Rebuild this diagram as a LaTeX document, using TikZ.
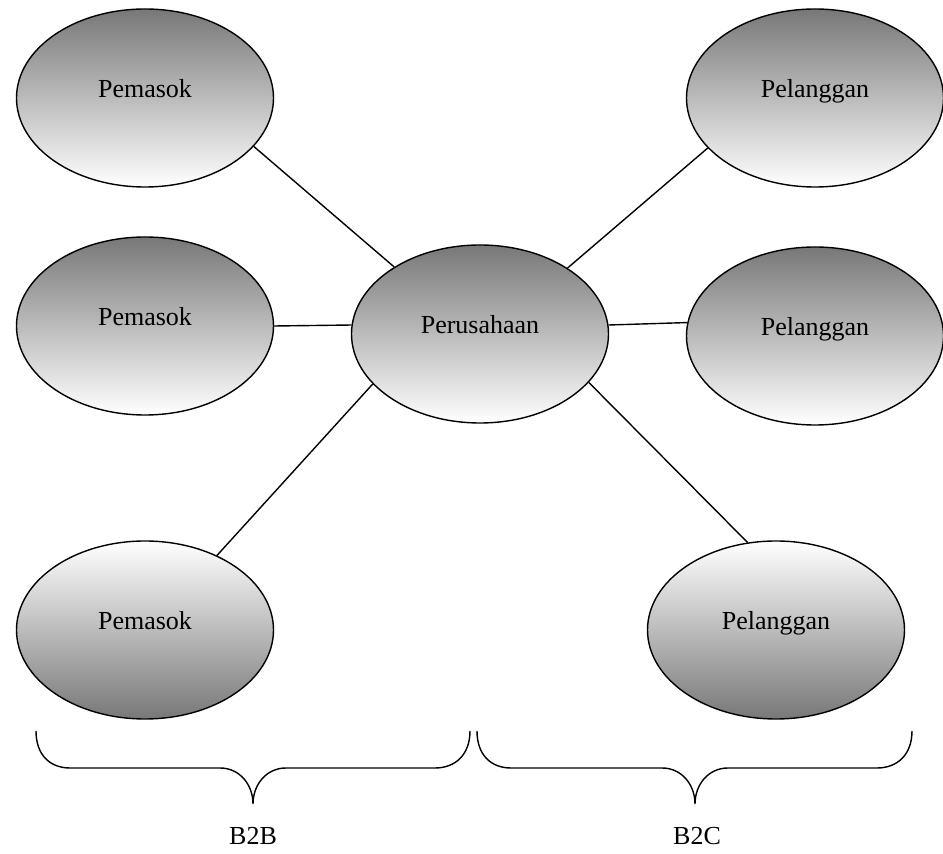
\documentclass[tikz,border=0pt]{standalone}
\usepackage{fontspec}
\setmainfont{Liberation Serif}
\usetikzlibrary{shapes.geometric}

\begin{document}
\begin{tikzpicture}[x=0.5pt,y=-0.5pt,
  entitas/.style={ellipse,draw,line width=0.7pt,minimum width=128.5pt,minimum height=89pt,inner sep=0pt,text height=8pt,text depth=8pt,font=\fontsize{13}{15}\selectfont},
  gelap/.style={entitas,top color=black!53,bottom color=white},
  terang/.style={entitas,top color=white,bottom color=black!53},
  garis/.style={line width=0.7pt}]
\useasboundingbox (0,0) rectangle (943,854);
% pemasok
\node[gelap] (pm1) at (145,98) {Pemasok};
\node[gelap] (pm2) at (145,326) {Pemasok};
\node[terang] (pm3) at (145,630) {Pemasok};
% perusahaan
\node[gelap] (prs) at (480,334) {Perusahaan};
% pelanggan
\node[gelap] (pl1) at (815,98) {Pelanggan};
\node[gelap] (pl2) at (815,336) {Pelanggan};
\node[terang] (pl3) at (776,630) {Pelanggan};
% garis
\draw[garis] (pm1.-24) -- (prs.142);
\draw[garis] (pm2.east) -- (prs.176);
\draw[garis] (pm3.46) -- (prs.205);
\draw[garis] (pl1.205) -- (prs.37);
\draw[garis] (pl2.174) -- (prs.4);
\draw[garis] (pl3.108) -- (prs.-24);
% kurung kurawal
\draw[garis] (36,731) .. controls (36,755) and (50,768) .. (70,768) -- (220,768)
  .. controls (240,768) and (253,785) .. (253,804)
  .. controls (253,785) and (266,768) .. (286,768) -- (435,768)
  .. controls (455,768) and (470,755) .. (470,731);
\draw[garis] (477,731) .. controls (477,755) and (491,768) .. (511,768) -- (662,768)
  .. controls (682,768) and (695,785) .. (695,804)
  .. controls (695,785) and (708,768) .. (728,768) -- (877,768)
  .. controls (897,768) and (912,755) .. (912,731);
\node[font=\fontsize{13}{15}\selectfont] (b2b) at (253,836) {B2B};
\node[font=\fontsize{13}{15}\selectfont] (b2c) at (697,836) {B2C};
\end{tikzpicture}
\end{document}
